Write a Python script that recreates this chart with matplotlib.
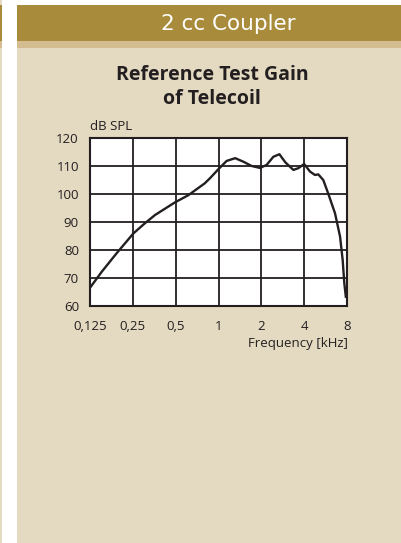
import matplotlib
matplotlib.use('Agg')
import matplotlib.pyplot as plt
from matplotlib.patches import Rectangle

# Values
freq_khz = [0.125, 0.151, 0.192, 0.252, 0.30, 0.358, 0.494, 0.615, 0.80, 0.87,
            1.0, 1.14, 1.31, 1.5, 1.71, 1.96, 2.18, 2.43, 2.68, 2.95,
            3.36, 3.63, 4.0, 4.4, 4.76, 5.03, 5.45, 5.9, 6.59, 7.15,
            7.46, 7.66, 7.85]
gain_db = [66.5, 72.2, 78.8, 85.9, 89.3, 92.5, 97.0, 99.6, 103.8, 105.6,
           108.9, 111.8, 112.8, 111.5, 110.0, 109.3, 110.4, 113.3, 114.2, 111.3,
           108.6, 109.2, 110.7, 108.0, 106.8, 107.0, 105.0, 100.2, 93.1, 84.8,
           76.4, 68.1, 63.3]

x_ticks = [0.125, 0.25, 0.5, 1, 2, 4, 8]
x_labels = ['0,125', '0,25', '0,5', '1', '2', '4', '8']
y_ticks = [60, 70, 80, 90, 100, 110, 120]

W, H = 401, 543
gold = '#a98b3c'
tan = '#d3bc90'
beige = '#e4d9c1'
ink = '#231f20'

fig = plt.figure(figsize=(W / 100, H / 100), dpi=100, facecolor='white')


def box(x0, y0, x1, y1, color):
    # pixel box (top-left origin) -> figure fraction rectangle
    fig.patches.append(Rectangle((x0 / W, 1 - y1 / H), (x1 - x0) / W, (y1 - y0) / H,
                                 transform=fig.transFigure, color=color, lw=0, zorder=0))


# page background pieces
box(0, 0, 2, H, beige)
box(0, 5, 2, 41, gold)
box(0, 41, 2, 48, tan)
box(17, 48, W, H, beige)
box(17, 5, W, 41, gold)
box(17, 41, W, 48, tan)

fig.text(228 / W, 1 - 24 / H, '2 cc Coupler', color='white', fontsize=15.5,
         family='DejaVu Sans', ha='center', va='center')

fig.text(212 / W, 1 - 87 / H, 'Reference Test Gain\nof Telecoil', color=ink,
         fontsize=14, family='Open Sans', weight='bold', ha='center', va='center',
         linespacing=1.3)

# plot area
ax = fig.add_axes([90 / W, 1 - 306 / H, 257 / W, 168 / H])
ax.set_zorder(2)
ax.set_facecolor('white')
ax.plot(freq_khz, gain_db, color=ink, lw=1.7, zorder=3,
        solid_joinstyle='round')
ax.set_xscale('log', base=2)
ax.set_xlim(0.125, 8)
ax.set_ylim(60, 120)
ax.set_xticks(x_ticks)
ax.set_xticklabels(x_labels)
ax.minorticks_off()
ax.set_yticks(y_ticks)
ax.grid(True, color=ink, lw=1.3)
ax.tick_params(length=0, labelsize=9.5, labelcolor=ink)
ax.tick_params(axis='x', pad=10)
ax.tick_params(axis='y', pad=8)
for lab in ax.get_xticklabels() + ax.get_yticklabels():
    lab.set_family('Open Sans')
for s in ax.spines.values():
    s.set_color(ink)
    s.set_linewidth(1.5)

fig.text(90 / W, 1 - 126 / H, 'dB SPL', color=ink, fontsize=9.5,
         family='Open Sans', ha='left', va='center')
fig.text(348 / W, 1 - 343 / H, 'Frequency [kHz]', color=ink, fontsize=9.5,
         family='Open Sans', ha='right', va='center')

fig.savefig('out.png', dpi=100, facecolor='white')
